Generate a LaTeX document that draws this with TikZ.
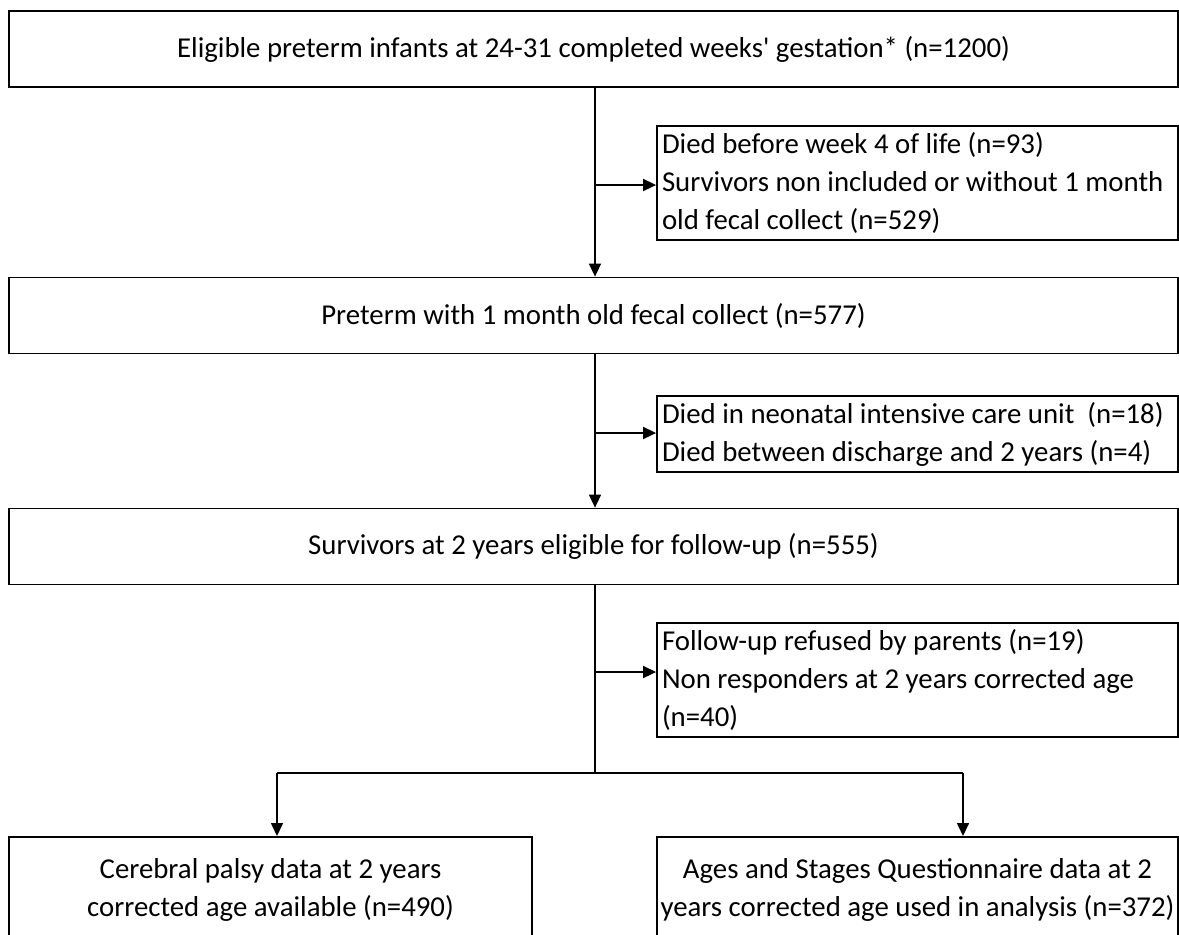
\documentclass[tikz,border=0pt]{standalone}
\usepackage{fontspec}
\setmainfont{Carlito}
\usepackage{tikz}
\usetikzlibrary{arrows.meta,positioning,calc}

\begin{document}
\begin{tikzpicture}[x=0.5pt,y=-0.5pt,
    every node/.style={font=\fontsize{14.4}{19}\selectfont},
    mainbox/.style={draw, line width=0.9pt, minimum width=584.5pt, minimum height=38pt, align=center, inner sep=0pt},
    sidebox/.style={draw, line width=0.9pt, text width=255.5pt, align=flush left, inner xsep=2.5pt, inner ysep=0pt},
    outbox/.style={draw, line width=0.9pt, minimum height=53pt, anchor=north, align=center, inner sep=0pt},
    flow/.style={line width=0.8pt, -{Triangle[length=6.5pt,width=6pt]}},
    link/.style={line width=0.8pt}]
  \useasboundingbox (0,0) rectangle (1179,934);
  \clip (0,0) rectangle (1179,934);

  % main column
  \node[mainbox] (eligible) at (593.5,49) {Eligible preterm infants at 24-31 completed weeks\textquotesingle{} gestation* (n=1200)};
  \node[mainbox] (fecal) at (593.5,315.5) {Preterm with 1 month old fecal collect (n=577)};
  \node[mainbox] (surv) at (593.5,546.5) {Survivors at 2 years eligible for follow-up (n=555)};

  % exclusions
  \node[sidebox, minimum height=57pt] (excl1) at (917.5,183) {Died before week 4 of life (n=93)\\Survivors non included or without 1 month\\old fecal collect (n=529)};
  \node[sidebox, minimum height=38pt] (excl2) at (917.5,434) {Died in neonatal intensive care unit~ (n=18)\\Died between discharge and 2 years (n=4)};
  \node[sidebox, minimum height=57pt] (excl3) at (917.5,680) {Follow-up refused by parents (n=19)\\Non responders at 2 years corrected age\\(n=40)};

  % outcomes
  \node[outbox, minimum width=261.5pt] (cp) at (270.5,836) {Cerebral palsy data at 2 years\\corrected age available (n=490)};
  \node[outbox, minimum width=260.5pt] (asq) at (917.5,836) {Ages and Stages Questionnaire data at 2\\years corrected age used in analysis (n=372)};

  \coordinate (j1) at (595,185);
  \coordinate (j2) at (595,433);
  \coordinate (j3) at (595,672);
  \coordinate (split) at (595,773);
  \coordinate (lft) at (277,773);
  \coordinate (rgt) at (963,773);

  \draw[flow] (eligible.south -| j1) -- (fecal.north -| j1);
  \draw[flow] (fecal.south -| j2) -- (surv.north -| j2);
  \draw[link] (surv.south -| split) -- (split);
  \draw[flow] (j1) -- (j1 -| excl1.west);
  \draw[flow] (j2) -- (j2 -| excl2.west);
  \draw[flow] (j3) -- (j3 -| excl3.west);
  \draw[link] (lft) -- (rgt);
  \draw[flow] (lft) -- (lft |- cp.north);
  \draw[flow] (rgt) -- (rgt |- asq.north);
\end{tikzpicture}
\end{document}
